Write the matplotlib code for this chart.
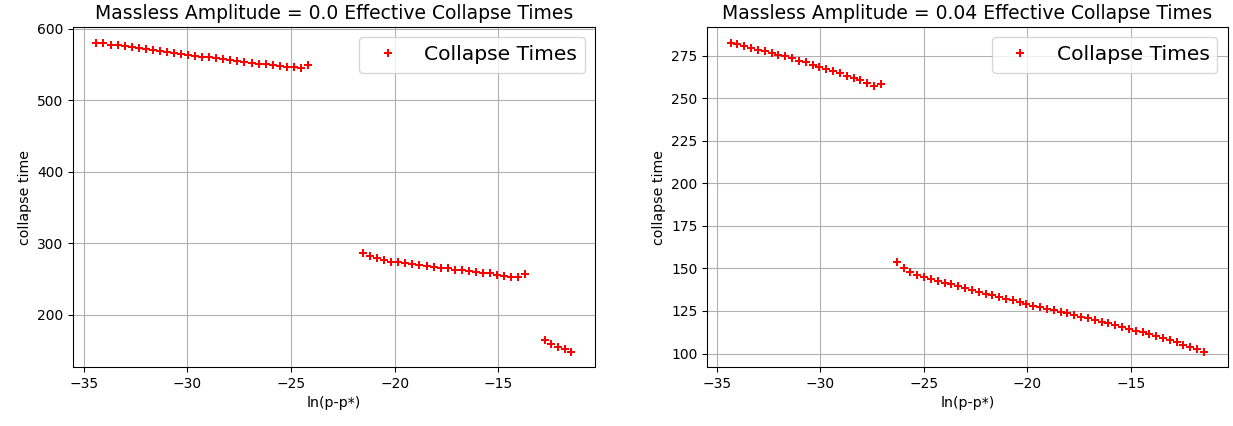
import matplotlib
matplotlib.use("Agg")
import matplotlib.pyplot as plt

# massless amplitude = 0.0
x_a0 = [-34.39, -34.05, -33.71, -33.37, -33.03, -32.69, -32.35, -32.01, -31.67, -31.33,
        -30.99, -30.65, -30.31, -29.97, -29.63, -29.29, -28.95, -28.61, -28.27, -27.93,
        -27.59, -27.25, -26.91, -26.57, -26.23, -25.89, -25.55, -25.21, -24.87, -24.53,
        -24.19,
        -21.53, -21.19, -20.85, -20.51, -20.17, -19.83, -19.49, -19.15, -18.81, -18.47,
        -18.13, -17.79, -17.45, -17.11, -16.77, -16.43, -16.09, -15.75, -15.41, -15.07,
        -14.73, -14.39, -14.05, -13.71,
        -12.77, -12.45, -12.13, -11.81, -11.49]
t_a0 = [580.5, 579.5, 578.0, 577.0, 575.5, 574.5, 573.0, 572.0, 570.5, 569.5,
        568.0, 566.5, 565.0, 563.5, 562.5, 561.0, 560.0, 558.5, 557.5, 556.5,
        555.0, 554.0, 552.5, 551.5, 550.5, 549.0, 548.0, 547.0, 546.0, 545.5,
        549.5,
        286.0, 282.0, 279.5, 277.5, 274.5, 273.5, 272.0, 271.0, 269.5, 268.5,
        267.0, 266.0, 265.0, 263.5, 262.5, 261.5, 260.0, 259.0, 258.0, 256.5,
        255.0, 253.5, 253.0, 257.0,
        165.5, 159.5, 155.5, 152.0, 148.5]

# massless amplitude = 0.04
x_a04 = [-34.34, -34.01, -33.68, -33.35, -33.02, -32.69, -32.36, -32.03, -31.70, -31.37,
         -31.04, -30.71, -30.38, -30.05, -29.72, -29.39, -29.06, -28.73, -28.40, -28.07,
         -27.74, -27.41, -27.08,
         -26.31, -25.98, -25.65, -25.32, -24.99, -24.66, -24.33, -24.00, -23.67, -23.34,
         -23.01, -22.68, -22.35, -22.02, -21.69, -21.36, -21.03, -20.70, -20.37, -20.04,
         -19.71, -19.38, -19.05, -18.72, -18.39, -18.06, -17.73, -17.40, -17.07, -16.74,
         -16.41, -16.08, -15.75, -15.42, -15.09, -14.76, -14.43, -14.10, -13.77, -13.44,
         -13.11, -12.78, -12.45, -12.12, -11.79, -11.46]
t_a04 = [282.5, 281.5, 280.5, 279.5, 278.5, 277.5, 276.5, 275.5, 274.5, 273.5,
         272.0, 271.0, 269.5, 268.5, 267.0, 266.0, 264.5, 263.0, 262.0, 260.5,
         259.0, 257.0, 258.0,
         154.0, 150.5, 148.0, 146.0, 144.8, 143.8, 142.8, 141.7, 140.6, 139.6,
         138.5, 137.4, 136.2, 135.2, 134.2, 133.2, 132.2, 131.2, 130.1, 129.0,
         128.1, 127.2, 126.3, 125.4, 124.5, 123.6, 122.7, 121.7, 120.7, 119.7,
         118.7, 117.7, 116.6, 115.5, 114.4, 113.4, 112.4, 111.3, 110.2, 109.1,
         108.0, 106.7, 105.3, 103.9, 102.5, 101.0]

amplitudes = ["0.0", "0.04"]

W, H = 1233, 426
DPI = 97
fig = plt.figure(figsize=(W / DPI, H / DPI), dpi=DPI)

# axes boxes in pixels: left, top, right, bottom
boxes = [(72.7, 27.3, 595, 367.3), (707, 27.3, 1227.6, 367.3)]
data = [(x_a0, t_a0), (x_a04, t_a04)]

for (l, t, r, b), (xs, ts), amp in zip(boxes, data, amplitudes):
    ax = fig.add_axes([l / W, 1 - b / H, (r - l) / W, (b - t) / H])
    ax.plot(xs, ts, "r+", mew=1.5, label="Collapse Times")
    ax.set_title("Massless Amplitude = %s Effective Collapse Times" % amp, fontsize=13.9)
    ax.set_xlabel("ln(p-p*)", fontsize=10.5)
    ax.set_ylabel("collapse time", fontsize=10.5)
    ax.tick_params(labelsize=10.3)
    ax.grid(True)
    ax.legend(fontsize=15)

fig.savefig("out.png", dpi=DPI)
